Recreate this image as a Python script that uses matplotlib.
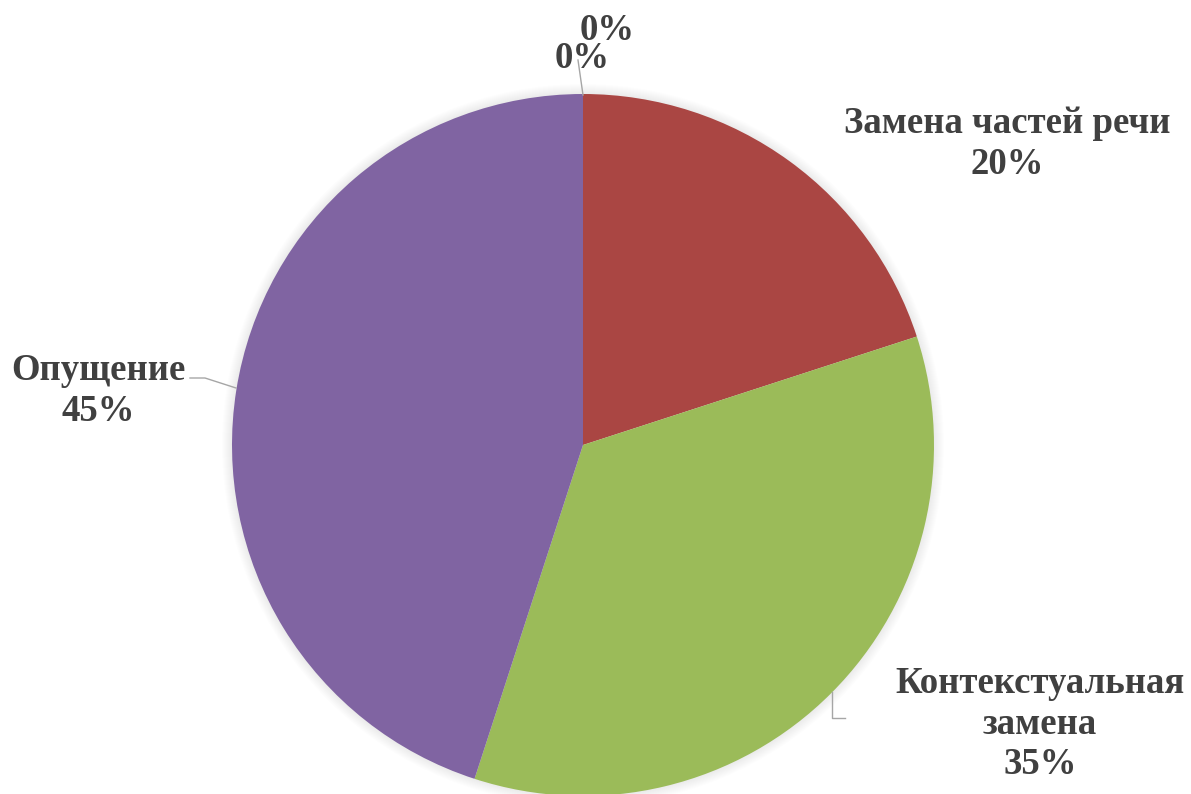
import numpy as np
import matplotlib.pyplot as plt
from matplotlib.patches import Circle

plt.rcParams['font.family'] = ['Liberation Serif', 'DejaVu Serif']

# Data
categories = ['', '', 'Замена частей речи', 'Контекстуальная\nзамена', 'Опущение']
values = [0, 0, 20, 35, 45]
colors = ['#4F81BD', '#C0504D', '#AA4643', '#9BBB59', '#8064A2']

W, H = 1191, 794
fig = plt.figure(figsize=(W / 100, H / 100), dpi=100)
ax = fig.add_axes([0, 0, 1, 1])

cx, cy, r = 583, H - 445, 351

# soft shadow around the pie
for i in range(10):
    ax.add_patch(Circle((cx, cy), r + 1 + i * 1.0, color='black',
                        alpha=0.008, lw=0, zorder=0))

wedges, _ = ax.pie(values, colors=colors, startangle=90, counterclock=False,
                   center=(cx, cy), radius=r, frame=True,
                   wedgeprops=dict(linewidth=0))
ax.set_xlim(0, W)
ax.set_ylim(0, H)
ax.set_aspect('equal')
ax.axis('off')

txt = dict(fontsize=26.5, fontweight='bold', color='#404040',
           ha='center', va='center', linespacing=1.22)

# label positions (pixel coords, y from top)
label_pos = [(607, 30), (582, 58), (1007, 144), (1040, 724), (98, 391)]
for (x, y), name, v in zip(label_pos, categories, values):
    s = f'{v}%' if not name else f'{name}\n{v}%'
    ax.text(x, H - y, s, **txt)

# leader lines
lc = dict(color='#A6A6A6', lw=1.0, zorder=3)
ax.plot([583, 578], [H - 95, H - 60], **lc)
ax.plot([236, 205, 190], [H - 388, H - 378, H - 378], **lc)
ax.plot([832, 832, 845], [H - 692, H - 718, H - 718], **lc)

fig.savefig('out.png', dpi=100, facecolor='white')
